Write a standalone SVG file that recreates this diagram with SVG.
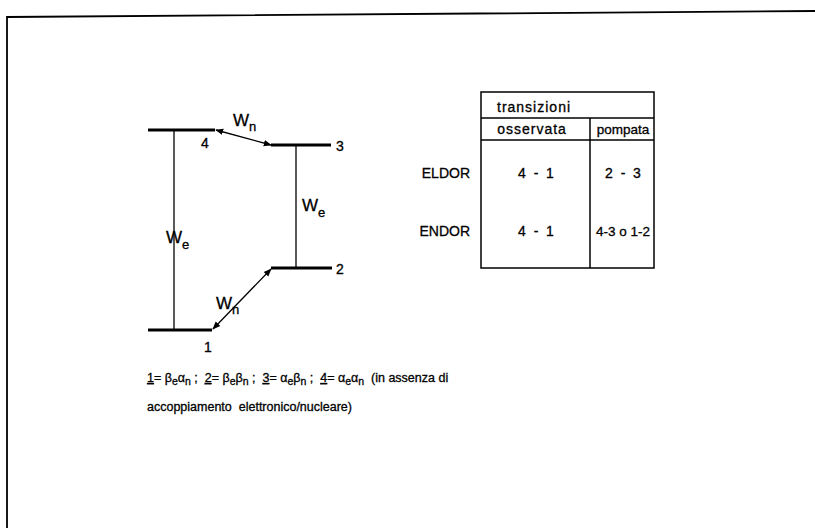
<svg xmlns="http://www.w3.org/2000/svg" width="815" height="528" viewBox="0 0 815 528">
<style>
text{font-family:"Liberation Sans",Arial,sans-serif;fill:#000;stroke:#000;stroke-width:0.3}
.t{font-size:14px}
.h{font-size:14px;letter-spacing:1px}
.s{font-size:13.5px}
.g{font-size:12.5px}
.lbl{font-size:17px}
.sub{font-size:13px}
.gs{font-size:10.5px}
.lv{stroke:#000;stroke-width:3;fill:none}
.ln{stroke:#000;stroke-width:1.3;fill:none}
.tb{stroke:#000;stroke-width:1.5;fill:none}
</style>
<defs>
<marker id="ah" viewBox="0 0 10 10" refX="9" refY="5" markerWidth="8" markerHeight="8" orient="auto-start-reverse" markerUnits="userSpaceOnUse">
<path d="M0,1 L10,5 L0,9 z" fill="#000"/>
</marker>
</defs>
<rect width="815" height="528" fill="#fff"/>
<g id="frame">
<path d="M7,528 L7,17 L815,11" stroke="#000" stroke-width="1.8" fill="none"/>
</g>
<g id="level4"><line class="lv" x1="148" y1="130" x2="215" y2="130"/><text class="t" x="201" y="148">4</text></g>
<g id="level3"><line class="lv" x1="271" y1="145" x2="331" y2="145"/><text class="t" x="336" y="151">3</text></g>
<g id="level2"><line class="lv" x1="271" y1="268" x2="332" y2="268"/><text class="t" x="336" y="274">2</text></g>
<g id="level1"><line class="lv" x1="148" y1="330" x2="212" y2="330"/><text class="t" x="204" y="352">1</text></g>
<g id="connectors">
<line class="ln" x1="174" y1="130" x2="174" y2="330"/>
<line class="ln" x1="296" y1="145" x2="296" y2="268"/>
<line class="ln" x1="216" y1="130" x2="271" y2="145" marker-start="url(#ah)" marker-end="url(#ah)"/>
<line class="ln" x1="213" y1="329" x2="271" y2="269" marker-start="url(#ah)" marker-end="url(#ah)"/>
</g>
<g id="labels">
<text class="lbl" x="233" y="126">W<tspan class="sub" dy="5">n</tspan></text>
<text class="lbl" x="216" y="309">W<tspan class="sub" dy="5">n</tspan></text>
<text class="lbl" x="166" y="243">W<tspan class="sub" dy="6">e</tspan></text>
<text class="lbl" x="302" y="211">W<tspan class="sub" dy="6">e</tspan></text>
</g>
<g id="table">
<rect class="tb" x="481" y="92" width="173" height="176"/>
<line class="tb" x1="481" y1="118" x2="654" y2="118"/>
<line class="tb" x1="481" y1="140" x2="654" y2="140"/>
<line class="tb" x1="590" y1="118" x2="590" y2="268"/>
<text class="h" x="497" y="112">transizioni</text>
<text class="h" x="532" y="134" text-anchor="middle">osservata</text>
<text class="s" x="623" y="134" text-anchor="middle">pompata</text>
<text class="t" x="470" y="178" text-anchor="end">ELDOR</text>
<text class="t" x="536" y="178" text-anchor="middle" xml:space="preserve">4  -  1</text>
<text class="t" x="623" y="178" text-anchor="middle" xml:space="preserve">2  -  3</text>
<text class="t" x="470" y="236" text-anchor="end">ENDOR</text>
<text class="t" x="536" y="236" text-anchor="middle" xml:space="preserve">4  -  1</text>
<text class="s" x="623" y="236" text-anchor="middle" xml:space="preserve">4-3 o 1-2</text>
</g>
<g id="legend">
<text class="g" x="147" y="382" xml:space="preserve"><tspan text-decoration="underline">1</tspan>= β<tspan class="gs" dy="3">e</tspan><tspan dy="-3">α</tspan><tspan class="gs" dy="3">n</tspan><tspan dy="-3"> ;  </tspan><tspan text-decoration="underline">2</tspan>= β<tspan class="gs" dy="3">e</tspan><tspan dy="-3">β</tspan><tspan class="gs" dy="3">n</tspan><tspan dy="-3"> ;  </tspan><tspan text-decoration="underline">3</tspan>= α<tspan class="gs" dy="3">e</tspan><tspan dy="-3">β</tspan><tspan class="gs" dy="3">n</tspan><tspan dy="-3"> ;  </tspan><tspan text-decoration="underline">4</tspan>= α<tspan class="gs" dy="3">e</tspan><tspan dy="-3">α</tspan><tspan class="gs" dy="3">n</tspan><tspan dy="-3">  (in assenza di</tspan></text>
<text class="g" x="147" y="411" xml:space="preserve">accoppiamento  elettronico/nucleare)</text>
</g>
</svg>
